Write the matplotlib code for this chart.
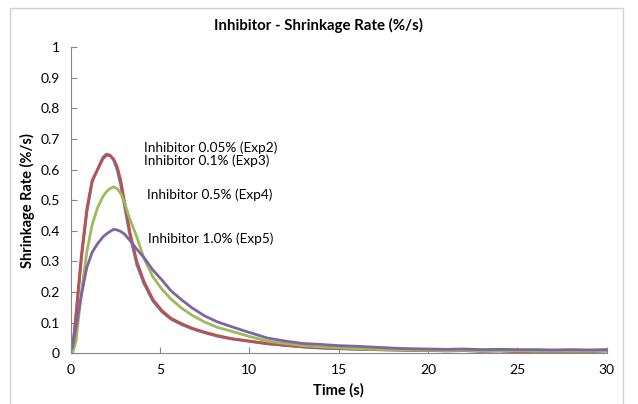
import matplotlib
matplotlib.use('Agg')
import matplotlib.pyplot as plt
from matplotlib.patches import Rectangle

plt.rcParams['font.family'] = ['Lato', 'DejaVu Sans']

#--------------------------------------------------------------------
# data
time_s = [0, 0.1, 0.3, 0.6, 0.9, 1.2, 1.5, 1.8, 2.0, 2.2, 2.4, 2.6, 2.8, 3.0, 3.3, 3.7, 4.1,
          4.6, 5.1, 5.6, 6.2, 6.8, 7.5, 8.2, 9, 10, 11, 12, 13, 14, 15, 16, 17, 18,
          19, 20, 21, 22, 23, 24, 25, 26, 27, 28, 29, 30]

exp2 = [0.0, 0.01, 0.12, 0.31, 0.46, 0.56, 0.60, 0.64, 0.651, 0.648, 0.632, 0.60, 0.55, 0.485, 0.39, 0.29, 0.228,
        0.171, 0.136, 0.112, 0.094, 0.080, 0.067, 0.056, 0.047, 0.039, 0.031, 0.026, 0.021, 0.017, 0.015, 0.013, 0.012, 0.011,
        0.010, 0.009, 0.008, 0.009, 0.007, 0.008, 0.006, 0.007, 0.006, 0.007, 0.006, 0.008]
exp3 = [0.0, 0.01, 0.13, 0.32, 0.47, 0.565, 0.60, 0.635, 0.647, 0.646, 0.635, 0.61, 0.565, 0.50, 0.40, 0.30, 0.235,
        0.176, 0.140, 0.115, 0.097, 0.082, 0.069, 0.058, 0.048, 0.040, 0.032, 0.026, 0.021, 0.018, 0.016, 0.014, 0.012, 0.011,
        0.010, 0.010, 0.008, 0.009, 0.007, 0.008, 0.006, 0.007, 0.006, 0.007, 0.006, 0.008]
exp4 = [0.0, 0.0, 0.04, 0.20, 0.33, 0.42, 0.475, 0.512, 0.528, 0.538, 0.544, 0.538, 0.522, 0.495, 0.44, 0.38, 0.31,
        0.25, 0.21, 0.178, 0.148, 0.124, 0.102, 0.085, 0.072, 0.055, 0.040, 0.032, 0.025, 0.021, 0.018, 0.015, 0.013, 0.012,
        0.011, 0.010, 0.009, 0.010, 0.008, 0.009, 0.008, 0.008, 0.007, 0.008, 0.007, 0.009]
exp5 = [0.01, 0.02, 0.087, 0.19, 0.28, 0.33, 0.358, 0.38, 0.39, 0.398, 0.405, 0.403, 0.398, 0.39, 0.37, 0.34, 0.313,
        0.272, 0.24, 0.205, 0.175, 0.148, 0.122, 0.103, 0.087, 0.068, 0.050, 0.040, 0.032, 0.029, 0.025, 0.023, 0.020, 0.017,
        0.015, 0.014, 0.013, 0.014, 0.012, 0.013, 0.012, 0.012, 0.011, 0.012, 0.011, 0.012]

labels = ['Inhibitor 0.05% (Exp2)', 'Inhibitor 0.1% (Exp3)', 'Inhibitor 0.5% (Exp4)', 'Inhibitor 1.0% (Exp5)']
label_pos = [(4.1, 0.671), (4.1, 0.628), (4.25, 0.517), (4.3, 0.373)]

#--------------------------------------------------------------------
# plot
fig = plt.figure(figsize=(6.38, 4.04), dpi=100)
fig.patches.append(Rectangle((10/638, -0.05), 613/638, 1 - 8/404 + 0.05, transform=fig.transFigure,
                             fill=False, edgecolor='#D0D0D0', linewidth=1))
ax = fig.add_axes([0.1108, 0.1255, 0.951 - 0.1108, 0.883 - 0.1255])

ax.plot(time_s, exp2, color='#4F81BD', lw=2)   # Exp2
ax.plot(time_s, exp3, color='#C0504D', lw=2)   # Exp3
ax.plot(time_s, exp4, color='#9BBB59', lw=2)   # Exp4
ax.plot(time_s, exp5, color='#8064A2', lw=2)   # Exp5

for txt, (x, y) in zip(labels, label_pos):
    ax.text(x, y, txt, fontsize=9.8, va='center', ha='left')

ax.set_xlim(0, 30)
ax.set_ylim(0, 1)
ax.set_xticks(range(0, 31, 5))
ax.set_yticks([0, 0.1, 0.2, 0.3, 0.4, 0.5, 0.6, 0.7, 0.8, 0.9, 1])
ax.set_yticklabels(['0', '0.1', '0.2', '0.3', '0.4', '0.5', '0.6', '0.7', '0.8', '0.9', '1'])
ax.tick_params(direction='in', length=4, color='#868686', labelsize=10, pad=8)
for s in ['top', 'right']:
    ax.spines[s].set_visible(False)
for s in ['left', 'bottom']:
    ax.spines[s].set_color('#868686')

ax.set_xlabel('Time (s)', fontsize=10.5, fontweight='bold', labelpad=5)
ax.set_ylabel('Shrinkage Rate (%/s)', fontsize=10.5, fontweight='bold', labelpad=4)
fig.text(318/638, 1 - 25/404, 'Inhibitor - Shrinkage Rate (%/s)', fontsize=10.8, fontweight='bold',
         ha='center', va='center')

plt.savefig('out.png', dpi=100)
